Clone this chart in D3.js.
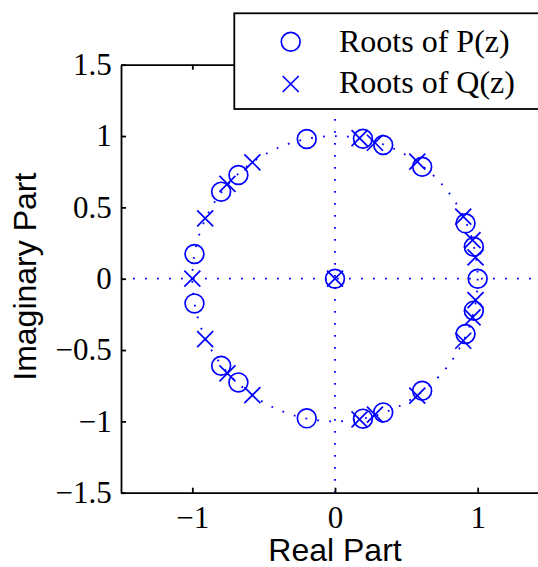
<!DOCTYPE html>
<html>
<head>
<meta charset="utf-8">
<script src="https://cdn.jsdelivr.net/npm/d3@7"></script>
<style>
  body { margin: 0; background: #fff; }
  svg { display: block; }
</style>
</head>
<body>
<div id="chart"></div>
<script>
// roots (real / imaginary parts)
const pRe = [0, 1.000, 0.973, 0.973, 0.915, 0.915, 0.611, 0.611, 0.338, 0.338, 0.196, 0.196, -0.198, -0.198, -0.677, -0.677, -0.798, -0.798, -0.985, -0.985];
const pIm = [0, 0, 0.224, -0.224, 0.388, -0.388, 0.785, -0.785, 0.937, -0.937, 0.981, -0.981, 0.979, -0.979, 0.727, -0.727, 0.610, -0.610, 0.173, -0.173];
const qRe = [0, -1.000, 0.985, 0.985, 0.964, 0.964, 0.899, 0.899, 0.577, 0.577, 0.280, 0.280, 0.172, 0.172, -0.579, -0.579, -0.754, -0.754, -0.910, -0.910];
const qIm = [0, 0, 0.150, -0.150, 0.271, -0.271, 0.435, -0.435, 0.820, -0.820, 0.953, -0.953, 0.986, -0.986, 0.816, -0.816, 0.664, -0.664, 0.423, -0.423];

const xTicks = [-1, 0, 1];
const yTicks = [-1.5, -1, -0.5, 0, 0.5, 1, 1.5];
const legendLabels = ["Roots of P(z)", "Roots of Q(z)"];
const xLabel = "Real Part";
const yLabel = "Imaginary Part";

const width = 538, height = 567;
const blue = "#0000ff";
const serif = "'Liberation Serif', 'Times New Roman', serif";
const sans = "'Liberation Sans', Arial, sans-serif";

const svg = d3.select("#chart")
  .append("svg")
  .attr("width", width)
  .attr("height", height);

const x = d3.scaleLinear().domain([-1.5, 1.5]).range([121, 549]);
const y = d3.scaleLinear().domain([-1.5, 1.5]).range([492.7, 64.7]);
const fmt = d3.format("");

// dotted reference lines + unit circle
const dots = svg.append("g")
  .attr("fill", "none")
  .attr("stroke", blue)
  .attr("stroke-width", 1.8)
  .attr("stroke-dasharray", "1.8 10.2");

dots.append("line")
  .attr("x1", x(-1.5)).attr("x2", x(1.5))
  .attr("y1", y(0)).attr("y2", y(0));

dots.append("line")
  .attr("x1", x(0)).attr("x2", x(0))
  .attr("y1", y(-1.5)).attr("y2", y(1.12));

dots.append("ellipse")
  .attr("cx", x(0)).attr("cy", y(0))
  .attr("rx", x(1) - x(0)).attr("ry", y(0) - y(1));

// P roots: circles
svg.append("g")
  .selectAll("circle")
  .data(pRe.map((d, i) => [d, pIm[i]]))
  .join("circle")
  .attr("cx", d => x(d[0]))
  .attr("cy", d => y(d[1]))
  .attr("r", 9.4)
  .attr("fill", "none")
  .attr("stroke", blue)
  .attr("stroke-width", 1.7);

// Q roots: crosses
const cross = (cx, cy, s) =>
  `M${cx - s},${cy - s}L${cx + s},${cy + s}M${cx - s},${cy + s}L${cx + s},${cy - s}`;

svg.append("g")
  .selectAll("path")
  .data(qRe.map((d, i) => [d, qIm[i]]))
  .join("path")
  .attr("d", d => cross(x(d[0]), y(d[1]), 8))
  .attr("fill", "none")
  .attr("stroke", blue)
  .attr("stroke-width", 1.7);

// axes (ticks pointing inward)
function styleAxis(g) {
  g.selectAll("path, line").attr("stroke", "#000").attr("stroke-width", 1.8);
  g.selectAll("text")
    .attr("fill", "#000")
    .style("font-family", serif)
    .style("font-size", "31px");
}

svg.append("g")
  .attr("transform", `translate(0,${y(-1.5)})`)
  .call(d3.axisBottom(x).tickValues(xTicks).tickFormat(fmt)
    .tickSizeInner(-5).tickSizeOuter(0).tickPadding(13))
  .call(styleAxis);

svg.append("g")
  .attr("transform", `translate(0,${y(1.5)})`)
  .call(d3.axisTop(x).tickValues(xTicks).tickFormat("")
    .tickSizeInner(-5).tickSizeOuter(0))
  .call(styleAxis);

svg.append("g")
  .attr("transform", `translate(${x(-1.5)},0)`)
  .call(d3.axisLeft(y).tickValues(yTicks).tickFormat(fmt)
    .tickSizeInner(-5).tickSizeOuter(0).tickPadding(9.3))
  .call(styleAxis);

svg.append("g")
  .attr("transform", `translate(${x(1.5)},0)`)
  .call(d3.axisRight(y).tickValues(yTicks).tickFormat("")
    .tickSizeInner(-5).tickSizeOuter(0))
  .call(styleAxis);

svg.selectAll(".domain").attr("fill", "none");

// axis titles
svg.append("text")
  .attr("x", x(0))
  .attr("y", 561)
  .attr("text-anchor", "middle")
  .style("font-family", sans)
  .style("font-size", "32px")
  .text(xLabel);

svg.append("text")
  .attr("transform", `translate(36,${y(0) - 2}) rotate(-90)`)
  .attr("text-anchor", "middle")
  .style("font-family", sans)
  .style("font-size", "32px")
  .text(yLabel);

// legend
const legend = svg.append("g");

legend.append("rect")
  .attr("x", 234.3)
  .attr("y", 13.3)
  .attr("width", 330)
  .attr("height", 95.7)
  .attr("fill", "#fff")
  .attr("stroke", "#000")
  .attr("stroke-width", 1.8);

legend.append("circle")
  .attr("cx", 290.7).attr("cy", 41.7).attr("r", 9.4)
  .attr("fill", "none").attr("stroke", blue).attr("stroke-width", 1.7);

legend.append("path")
  .attr("d", cross(290.7, 84, 8))
  .attr("fill", "none").attr("stroke", blue).attr("stroke-width", 1.7);

legend.selectAll("text")
  .data(legendLabels)
  .join("text")
  .attr("x", 339)
  .attr("y", (d, i) => 51.7 + i * 41.3)
  .style("font-family", serif)
  .style("font-size", "32px")
  .text(d => d);
</script>
</body>
</html>
